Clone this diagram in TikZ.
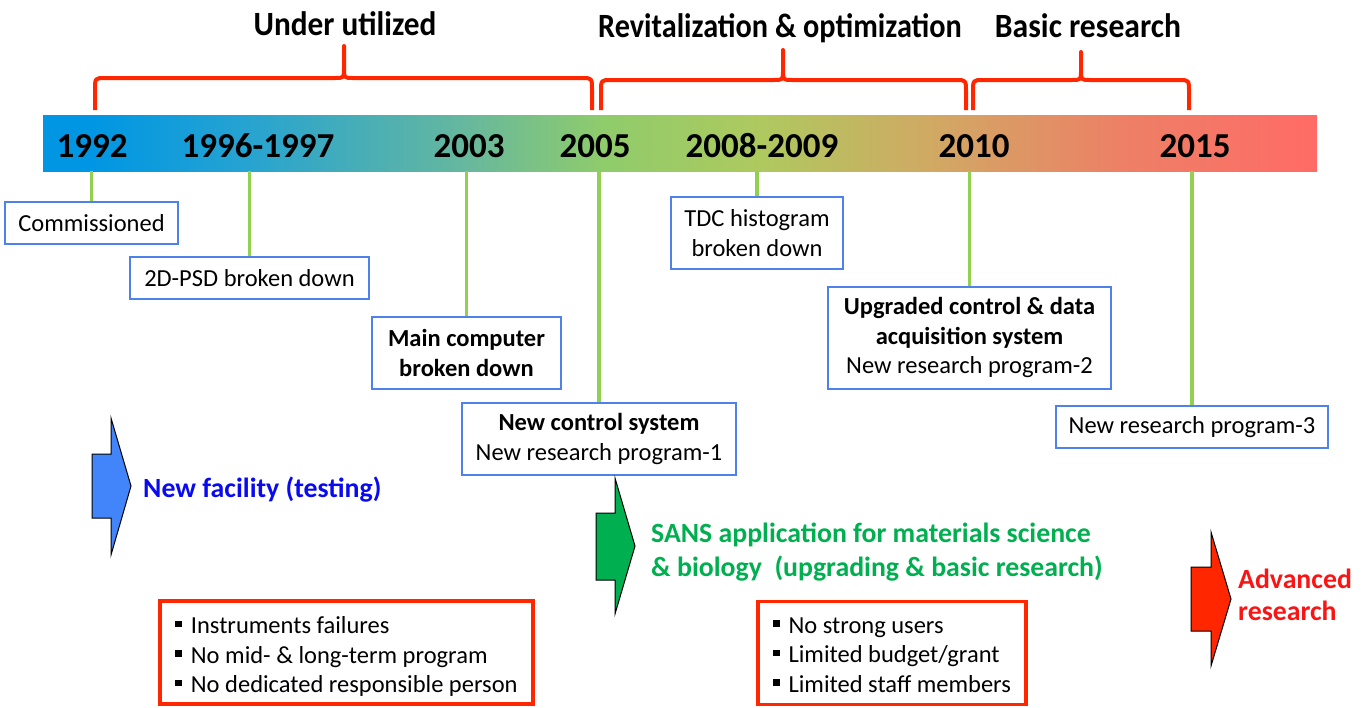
\documentclass[tikz,border=0pt]{standalone}
\usepackage{fontspec}
\usepackage{graphicx}
\setmainfont{Carlito}

\definecolor{bracered}{RGB}{255,38,0}
\definecolor{stemgreen}{RGB}{146,208,80}
\definecolor{boxblue}{RGB}{79,129,235}
\definecolor{arrowblue}{RGB}{66,133,250}
\definecolor{arrowgreen}{RGB}{0,176,80}
\definecolor{arrowred}{RGB}{255,38,0}
\definecolor{labelblue}{RGB}{10,10,240}
\definecolor{labelgreen}{RGB}{0,176,80}
\definecolor{labelred}{RGB}{250,20,20}

% colour ramp of the time bar (useful range 25bp..75bp)
\pgfdeclarehorizontalshading{timebar}{100bp}{%
  rgb(0bp)=(0,0.59,0.89);
  rgb(27bp)=(0,0.59,0.89);
  rgb(33bp)=(0.15,0.64,0.82);
  rgb(41.5bp)=(0.40,0.72,0.62);
  rgb(47bp)=(0.56,0.80,0.42);
  rgb(53bp)=(0.68,0.79,0.37);
  rgb(60bp)=(0.82,0.66,0.39);
  rgb(67.5bp)=(0.93,0.50,0.40);
  rgb(75bp)=(1,0.42,0.40);
  rgb(100bp)=(1,0.42,0.40)}

% curly bracket over a period: left x, middle x, right x, bar level, tip level
\newcommand\spanbrace[5]{%
  \draw[bracepen] (#1,110) -- (#1,{#4+12}) .. controls (#1,#4) .. ({#1+10},#4)
    -- ({#2-9},#4) .. controls (#2,#4) .. (#2,{#4-10}) -- (#2,#5)
    -- (#2,{#4-10}) .. controls (#2,#4) .. ({#2+9},#4)
    -- ({#3-10},#4) .. controls (#3,#4) .. (#3,{#4+12}) -- (#3,110);}

\newcommand\sqbullet{\rule[6.5pt]{6.5pt}{6.5pt}\hspace{9pt}}

\begin{document}
\begin{tikzpicture}[x=1pt,y=-1pt,
  yearlabel/.style={font=\fontsize{35}{40}\selectfont\bfseries, anchor=base, inner sep=0},
  phase/.style={font=\fontsize{34}{40}\selectfont\bfseries, anchor=base, inner sep=0},
  event/.style={draw=boxblue, line width=1.5, fill=white, align=center,
                font=\fontsize{24.5}{29.5}\selectfont, inner sep=0},
  stem/.style={draw=stemgreen, line width=3.5},
  bracepen/.style={draw=bracered, line width=4, line join=round},
  issues/.style={draw=bracered, line width=3.5, inner sep=0,
                 font=\fontsize{24.5}{29.5}\selectfont},
  blockarrow/.style={draw=black, line width=1, line join=miter},
  outcome/.style={anchor=base west, inner sep=0, font=\fontsize{27.8}{33}\selectfont\bfseries}]

\useasboundingbox (0,0) rectangle (1368,707);
\fill[white] (0,0) rectangle (1368,707);

% period brackets and titles
\spanbrace{95}{344}{592}{78}{46}
\spanbrace{601}{783}{966}{80}{50}
\spanbrace{973}{1081}{1189}{80}{52}
\node[phase] (ph1) at (345,35) {\scalebox{0.92}[1]{Under utilized}};
\node[phase] (ph2) at (780,37) {\scalebox{0.89}[1]{Revitalization \& optimization}};
\node[phase] (ph3) at (1088,37) {\scalebox{0.93}[1]{Basic research}};

% time bar
\shade[shading=timebar] (43,115) rectangle (1317,171);
\coordinate (barfoot) at (0,171);

\node[yearlabel] (y1992) at (92,157) {1992};
\node[yearlabel] (y1996) at (258,157) {1996-1997};
\node[yearlabel] (y2003) at (469,157) {2003};
\node[yearlabel] (y2005) at (595,157) {2005};
\node[yearlabel] (y2008) at (762,157) {2008-2009};
\node[yearlabel] (y2010) at (974,157) {2010};
\node[yearlabel] (y2015) at (1195,157) {2015};

% events
\node[event, minimum width=173, minimum height=42] (b1992) at (91.5,223) {Commissioned};
\node[event, minimum width=239, minimum height=42] (b1996) at (249.5,278) {2D-PSD broken down};
\node[event, minimum width=189, minimum height=72] (b2003) at (466.5,353) {\bfseries Main computer\\\bfseries broken down};
\node[event, minimum width=274, minimum height=72] (b2005) at (599,439) {\bfseries New control system\\New research program-1};
\node[event, minimum width=172, minimum height=72] (b2008) at (757,233) {TDC histogram\\broken down};
\node[event, minimum width=283, minimum height=102] (b2010) at (969.5,338) {\bfseries Upgraded control \& data\\\bfseries acquisition system\\New research program-2};
\node[event, minimum width=272, minimum height=42] (b2015) at (1192,427) {New research program-3};

\foreach \b in {b1992,b1996,b2003,b2005,b2008,b2010,b2015}
  \draw[stem] (\b.north |- barfoot) -- (\b.north);

% stage arrows
\filldraw[blockarrow, fill=arrowblue] (92,454) -- (111,454) -- (111,418) -- (131,486)
  -- (111,555) -- (111,518) -- (92,518) -- cycle;
\filldraw[blockarrow, fill=arrowgreen] (596,513) -- (615,513) -- (615,478) -- (635,546)
  -- (615,614) -- (615,580) -- (596,580) -- cycle;
\filldraw[blockarrow, fill=arrowred] (1191,567) -- (1211,567) -- (1211,532) -- (1231,599)
  -- (1211,666) -- (1211,631) -- (1191,631) -- cycle;

\node[outcome, text=labelblue] (facility) at (143,497) {New facility (testing)};
\node[outcome, text=labelgreen] (sans1) at (651,542) {SANS application for materials science};
\node[outcome, text=labelgreen] (sans2) at (651,576) {\& biology\ \ (upgrading \& basic research)};
\node[outcome, text=labelred] (adv1) at (1238,588) {Advanced};
\node[outcome, text=labelred] (adv2) at (1238,620) {research};

% problem lists
\node[issues, minimum width=373, minimum height=103] (probL) at (346.5,652.5) {%
  \raisebox{-5pt}[\height][\depth]{\begin{tabular}{@{}l@{}}
  \sqbullet Instruments failures\\
  \sqbullet No mid- \& long-term program\\
  \sqbullet No dedicated responsible person
  \end{tabular}}};
\node[issues, minimum width=268, minimum height=103] (probR) at (892,653) {%
  \raisebox{-4pt}[\height][\depth]{\begin{tabular}{@{}l@{}}
  \sqbullet No strong users\\
  \sqbullet Limited budget/grant\\
  \sqbullet Limited staff members
  \end{tabular}}};
\end{tikzpicture}
\end{document}
